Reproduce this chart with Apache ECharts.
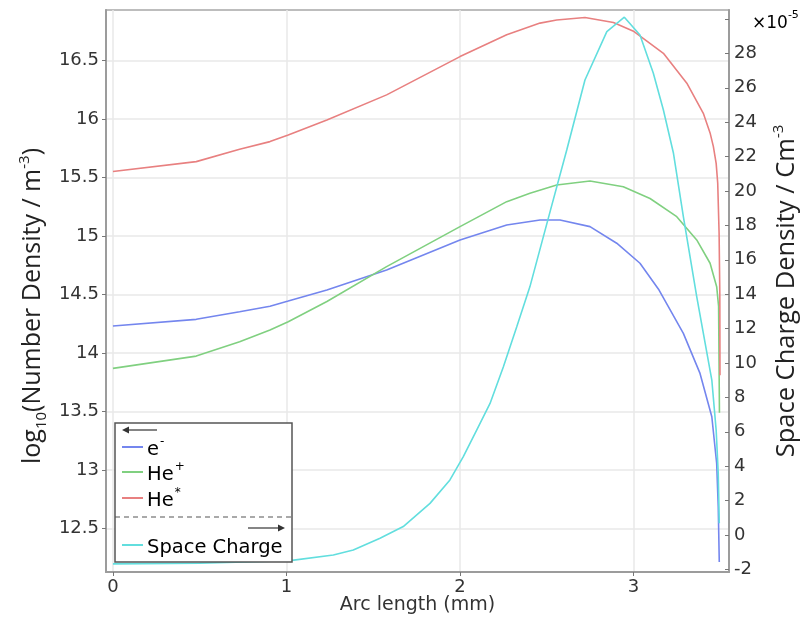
<!DOCTYPE html>
<html>
<head>
<meta charset="utf-8">
<script src="https://cdn.jsdelivr.net/npm/echarts@6/dist/echarts.min.js"></script>
<style>
  html, body { margin: 0; padding: 0; background: #fff; }
  #chart { width: 807px; height: 617px; }
</style>
</head>
<body>
<div id="chart"></div>
<script>
// Arc length positions (mm) and log10 number densities along the discharge axis
const arcElectron = [0, 0.48, 0.73, 0.905, 1.01, 1.233, 1.577, 2.0, 2.269, 2.461, 2.576, 2.749, 2.903, 3.037, 3.147, 3.287, 3.383, 3.451, 3.479, 3.488, 3.494];
const logElectron = [14.231, 14.288, 14.353, 14.40, 14.444, 14.538, 14.71, 14.966, 15.094, 15.137, 15.137, 15.08, 14.938, 14.767, 14.538, 14.168, 13.826, 13.456, 13.057, 12.69, 12.216];

const arcHeIon = [0, 0.48, 0.73, 0.905, 1.01, 1.233, 1.577, 2.0, 2.269, 2.403, 2.557, 2.749, 2.941, 3.095, 3.249, 3.364, 3.441, 3.479, 3.49, 3.495];
const logHeIon = [13.869, 13.974, 14.096, 14.197, 14.268, 14.44, 14.738, 15.08, 15.293, 15.365, 15.436, 15.47, 15.42, 15.32, 15.165, 14.966, 14.767, 14.567, 14.4, 13.49];

const arcHeMeta = [0, 0.48, 0.73, 0.905, 1.01, 1.233, 1.577, 2.0, 2.269, 2.461, 2.557, 2.72, 2.884, 3.003, 3.172, 3.307, 3.402, 3.441, 3.46, 3.476, 3.485, 3.493, 3.497, 3.498];
const logHeMeta = [15.55, 15.635, 15.74, 15.806, 15.863, 15.99, 16.205, 16.532, 16.718, 16.818, 16.845, 16.866, 16.823, 16.746, 16.56, 16.305, 16.048, 15.88, 15.763, 15.62, 15.45, 15.02, 14.51, 13.81];

// Space charge density in units of 1e-5 C/m^3
const arcCharge = [0, 0.5, 1.02, 1.27, 1.385, 1.539, 1.673, 1.827, 1.942, 2.019, 2.096, 2.173, 2.25, 2.327, 2.403, 2.519, 2.615, 2.72, 2.846, 2.947, 3.037, 3.114, 3.172, 3.23, 3.287, 3.364, 3.402, 3.451, 3.476, 3.488, 3.494];
const spaceCharge = [-1.68, -1.64, -1.49, -1.16, -0.87, -0.19, 0.49, 1.84, 3.20, 4.56, 6.10, 7.65, 9.78, 12.11, 14.44, 18.80, 22.38, 26.45, 29.26, 30.1, 29.07, 26.84, 24.71, 22.19, 18.51, 13.86, 11.73, 9.01, 6.10, 3.59, 0.68];

// Axis ticks
const arcTicks = [0, 1, 2, 3];
const densityTicks = [12.5, 13, 13.5, 14, 14.5, 15, 15.5, 16, 16.5];
const chargeTicks = [-2, 0, 2, 4, 6, 8, 10, 12, 14, 16, 18, 20, 22, 24, 26, 28, 30];
const chargeLabels = [-2, 0, 2, 4, 6, 8, 10, 12, 14, 16, 18, 20, 22, 24, 26, 28];

const colors = { electron: '#7486ee', heIon: '#80d080', heMeta: '#e88080', charge: '#62dede' };

const zip = (xs, ys) => xs.map((x, i) => [x, ys[i]]);

const tickFont = { fontFamily: 'DejaVu Sans', fontSize: 18, color: '#333' };
const axisGray = '#9c9c9c';

const chart = echarts.init(document.getElementById('chart'), null, { renderer: 'canvas' });

const legendX = 115, legendY = 423, legendW = 177, legendH = 139;
function arrow(x1, x2, y) {
  const dir = x2 > x1 ? 1 : -1;
  return [
    { type: 'line', shape: { x1: x1, y1: y, x2: x2 - dir * 5, y2: y }, style: { stroke: '#333', lineWidth: 1.2 }, z: 101 },
    { type: 'polygon', shape: { points: [[x2, y], [x2 - dir * 7, y - 3.5], [x2 - dir * 7, y + 3.5]] }, style: { fill: '#333' }, z: 101 }
  ];
}
function legendEntry(y, color, richText) {
  return [
    { type: 'line', shape: { x1: 122, y1: y, x2: 143, y2: y }, style: { stroke: color, lineWidth: 2 }, z: 101 },
    { type: 'text', x: 147, y: y + 1, style: {
        text: richText, verticalAlign: 'middle', align: 'left',
        rich: {
          m: { fontFamily: 'DejaVu Sans', fontSize: 19.5, color: '#333', lineHeight: 24, verticalAlign: 'bottom' },
          s: { fontFamily: 'DejaVu Sans', fontSize: 12, color: '#333', lineHeight: 24, verticalAlign: 'top', padding: [0, 0, 0, 1] }
        } }, z: 101 }
  ];
}

const option = {
  animation: false,
  backgroundColor: '#fff',
  grid: {
    left: 106, right: 78, top: 10, bottom: 45,
    outerBoundsMode: 'none', containLabel: false,
    show: true, borderColor: '#a8a8a8', borderWidth: 1.5, backgroundColor: 'transparent'
  },
  xAxis: {
    type: 'value', min: -0.04, max: 3.55,
    axisLine: { show: true, onZero: false, lineStyle: { color: axisGray, width: 2 } },
    axisTick: { show: true, inside: false, length: 4, customValues: arcTicks, lineStyle: { color: '#777' } },
    axisLabel: Object.assign({ customValues: arcTicks, margin: 6 }, tickFont),
    splitLine: { show: true, lineStyle: { color: '#e8e8e8', width: 1.5 } },
    name: 'Arc length (mm)', nameLocation: 'middle', nameGap: 24, nameMoveOverlap: false,
    nameTextStyle: { fontFamily: 'DejaVu Sans', fontSize: 19, color: '#333' }
  },
  yAxis: [
    {
      type: 'value', position: 'left', min: 12.13, max: 16.93,
      axisLine: { show: true, onZero: false, lineStyle: { color: axisGray, width: 2 } },
      axisTick: { show: true, inside: false, length: 4, customValues: densityTicks, lineStyle: { color: '#777' } },
      axisLabel: Object.assign({ customValues: densityTicks, margin: 7 }, tickFont),
      splitLine: { show: true, lineStyle: { color: '#e8e8e8', width: 1.5 } },
      name: '{a|log}{b|10}{a|(Number Density / m}{c|-3}{a|)}',
      nameLocation: 'middle', nameGap: 57, nameRotate: 90, nameMoveOverlap: false,
      nameTextStyle: {
        padding: [0, 30, 0, 0],
        rich: {
          a: { fontFamily: 'Open Sans', fontSize: 25, color: '#222', lineHeight: 32, verticalAlign: 'middle' },
          b: { fontFamily: 'Open Sans', fontSize: 15, color: '#222', lineHeight: 32, verticalAlign: 'bottom' },
          c: { fontFamily: 'Open Sans', fontSize: 15, color: '#222', lineHeight: 32, verticalAlign: 'top' }
        }
      }
    },
    {
      type: 'value', position: 'right', min: -2.15, max: 30.52,
      axisLine: { show: true, onZero: false, lineStyle: { color: axisGray, width: 2 } },
      axisTick: { show: true, inside: true, length: 4, customValues: chargeTicks, lineStyle: { color: '#777' } },
      axisLabel: Object.assign({ customValues: chargeLabels, margin: 5 }, tickFont),
      splitLine: { show: false },
      name: '{a|Space Charge Density / Cm}{c|-3}',
      nameLocation: 'middle', nameGap: 42, nameRotate: 90, nameMoveOverlap: false,
      nameTextStyle: {
        rich: {
          a: { fontFamily: 'Open Sans', fontSize: 25.5, color: '#222', lineHeight: 32, verticalAlign: 'middle' },
          c: { fontFamily: 'Open Sans', fontSize: 15, color: '#222', lineHeight: 32, verticalAlign: 'top' }
        }
      }
    }
  ],
  series: [
    { name: 'e-', type: 'line', yAxisIndex: 0, data: zip(arcElectron, logElectron), showSymbol: false, lineStyle: { color: colors.electron, width: 1.6 }, z: 3 },
    { name: 'He+', type: 'line', yAxisIndex: 0, data: zip(arcHeIon, logHeIon), showSymbol: false, lineStyle: { color: colors.heIon, width: 1.6 }, z: 3 },
    { name: 'He*', type: 'line', yAxisIndex: 0, data: zip(arcHeMeta, logHeMeta), showSymbol: false, lineStyle: { color: colors.heMeta, width: 1.6 }, z: 3 },
    { name: 'Space Charge', type: 'line', yAxisIndex: 1, data: zip(arcCharge, spaceCharge), showSymbol: false, lineStyle: { color: colors.charge, width: 1.6 }, z: 4 }
  ],
  graphic: [
    // exponent of the right axis
    { type: 'text', x: 752, y: 21, style: {
        text: '{a|×10}{b|-5}', verticalAlign: 'middle',
        rich: {
          a: { fontFamily: 'DejaVu Sans', fontSize: 17, color: '#333', lineHeight: 22, verticalAlign: 'bottom' },
          b: { fontFamily: 'DejaVu Sans', fontSize: 11, color: '#333', lineHeight: 22, verticalAlign: 'top' }
        } } },
    // legend frame
    { type: 'rect', shape: { x: legendX, y: legendY, width: legendW, height: legendH }, style: { fill: '#fff', stroke: '#555', lineWidth: 1.5 }, z: 100 },
    { type: 'line', shape: { x1: legendX, y1: 517, x2: legendX + legendW, y2: 517 }, style: { stroke: '#555', lineWidth: 1.2, lineDash: [5, 4] }, z: 101 },
    ...arrow(157, 122, 430),
    ...arrow(248, 285, 528),
    ...legendEntry(447, colors.electron, '{m|e}{s|-}'),
    ...legendEntry(472, colors.heIon, '{m|He}{s|+}'),
    ...legendEntry(498, colors.heMeta, '{m|He}{s|*}'),
    ...legendEntry(545, colors.charge, '{m|Space Charge}')
  ]
};

chart.setOption(option);
</script>
</body>
</html>
